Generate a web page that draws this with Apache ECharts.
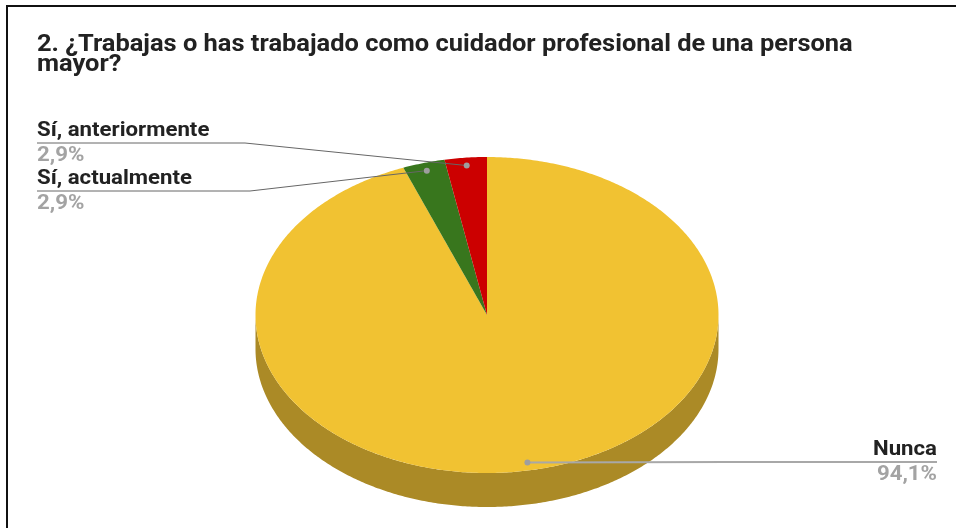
<!DOCTYPE html>
<html>
<head>
<meta charset="utf-8">
<title>Cuidador profesional</title>
<script src="https://cdn.jsdelivr.net/npm/echarts@6/dist/echarts.min.js"></script>
<style>
  html, body { margin: 0; padding: 0; background: #fff; }
  #frame {
    position: absolute; left: 6px; top: 5px;
    width: 950px; height: 523px;
    border-left: 2px solid #111; border-top: 2px solid #111;
  }
  #chart { position: absolute; left: 0; top: 0; width: 956px; height: 528px; }
</style>
</head>
<body>
<div id="frame"></div>
<div id="chart"></div>
<script>
// datos de la pregunta 2
const categories = ['Nunca', 'Sí, actualmente', 'Sí, anteriormente'];
const counts = [32, 1, 1];
const sliceColors = ['#f1c232', '#38761d', '#cc0000'];
const sideColors = ['#ab8a26', '#285316', '#900000'];
const titleText = '2. ¿Trabajas o has trabajado como cuidador profesional de una persona\nmayor?';

const total = counts.reduce((a, b) => a + b, 0);
const percentLabels = counts.map(v => (v / total * 100).toFixed(1).replace('.', ',') + '%');

// inicio acumulado de cada porción
let acc = 0;
const sliceData = counts.map((v, i) => {
  const item = [v, acc, i];
  acc += v;
  return item;
});

// geometría del pastel "3D"
const pie = { cx: 487, cy: 315, rx: 231.5, ry: 158, depth: 34 };
// el texto original sale algo ensanchado
const stretch = 1.11;

// dónde va cada etiqueta (lado, y de la línea, x del codo, x del texto)
const labelLayout = [
  { align: 'right', lineY: 462, kneeX: 728, textX: 937 },
  { align: 'left', lineY: 191, kneeX: 250, textX: 37 },
  { align: 'left', lineY: 143, kneeX: 245, textX: 37 }
];

function pt(a, r, dy) {
  return [pie.cx + pie.rx * r * Math.sin(a), pie.cy - pie.ry * r * Math.cos(a) + (dy || 0)];
}

function renderSlice(params, api) {
  const v = api.value(0), start = api.value(1), idx = api.value(2);
  const a0 = start / total * Math.PI * 2;
  const a1 = (start + v) / total * Math.PI * 2;
  const children = [];

  // cara lateral (solo la parte frontal, entre 90° y 270°)
  const s0 = Math.max(a0, Math.PI / 2), s1 = Math.min(a1, Math.PI * 1.5);
  if (s1 > s0) {
    const top = [], bottom = [];
    const n = Math.max(2, Math.ceil((s1 - s0) / 0.01));
    for (let k = 0; k <= n; k++) {
      const a = s0 + (s1 - s0) * k / n;
      top.push(pt(a, 1, 0));
      bottom.push(pt(a, 1, pie.depth));
    }
    children.push({
      type: 'polygon', z2: 1,
      shape: { points: top.concat(bottom.reverse()) },
      style: { fill: sideColors[idx] }
    });
  }

  // cara superior
  const pts = [[pie.cx, pie.cy]];
  const m = Math.max(2, Math.ceil((a1 - a0) / 0.01));
  for (let k = 0; k <= m; k++) pts.push(pt(a0 + (a1 - a0) * k / m, 1, 0));
  children.push({
    type: 'polygon', z2: 2,
    shape: { points: pts },
    style: { fill: sliceColors[idx] }
  });

  // línea guía + etiqueta
  const lay = labelLayout[idx];
  const dot = pt((a0 + a1) / 2, 0.95, 0);
  const leftSide = lay.align === 'left';
  children.push({
    type: 'polyline', z2: 10,
    shape: { points: [dot, [lay.kneeX, lay.lineY], [lay.textX, lay.lineY]] },
    style: { stroke: leftSide ? '#666' : '#a8a8a8', lineWidth: leftSide ? 1 : 2, fill: null }
  });
  children.push({
    type: 'circle', z2: 11,
    shape: { cx: dot[0], cy: dot[1], r: 3 },
    style: { fill: '#9e9e9e' }
  });
  children.push({
    type: 'text', z2: 12,
    x: lay.textX, y: lay.lineY - 2, scaleX: stretch,
    style: {
      text: categories[idx], x: 0, y: 0,
      align: lay.align, verticalAlign: 'bottom',
      font: 'bold 20px Roboto', fill: '#222'
    }
  });
  children.push({
    type: 'text', z2: 12,
    x: lay.textX, y: lay.lineY + 3, scaleX: stretch,
    style: {
      text: percentLabels[idx], x: 0, y: 0,
      align: lay.align, verticalAlign: 'top',
      font: 'bold 20px Roboto', fill: '#a3a3a3'
    }
  });

  return { type: 'group', children: children };
}

const chart = echarts.init(document.getElementById('chart'), null, { renderer: 'canvas' });
chart.setOption({
  animation: false,
  graphic: [{
    type: 'text',
    x: 37, y: 35, scaleX: 1.106,
    style: {
      text: titleText,
      font: 'bold 23px Roboto', lineHeight: 20,
      fill: '#222', verticalAlign: 'top'
    }
  }],
  series: [{
    type: 'custom',
    coordinateSystem: 'none',
    renderItem: renderSlice,
    data: sliceData
  }]
});
</script>
</body>
</html>
